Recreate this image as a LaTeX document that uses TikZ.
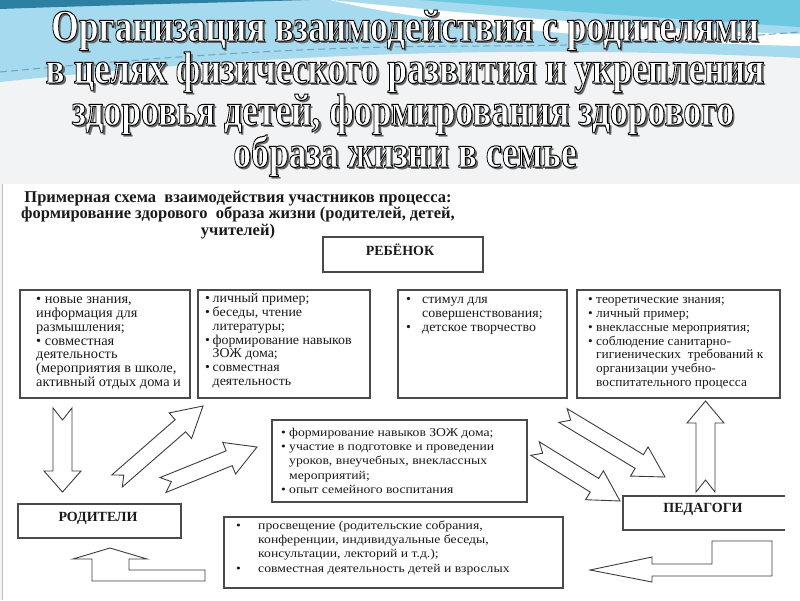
\documentclass[tikz,border=0pt]{standalone}
\usepackage{fontspec}
\setmainfont{Liberation Serif}
\newfontfamily\topfont[FakeStretch=1.03]{Liberation Serif}
\newfontfamily\widefont[FakeStretch=1.14]{Liberation Serif}
\usetikzlibrary{calc}
\definecolor{boxgray}{HTML}{4A4A4A}
\definecolor{arrgray}{HTML}{3C3C3C}
\definecolor{txtc}{HTML}{1A1A1A}
\definecolor{skyA}{HTML}{A6DAEE}
\definecolor{skyB}{HTML}{6CC9DF}
\definecolor{skyC}{HTML}{2C80A2}
\definecolor{bgtop}{HTML}{F1F3F5}
\tikzset{
  box/.style={draw=boxgray, line width=1.1pt, fill=white},
  farrow/.style={draw=arrgray, line width=0.9pt, fill=white, line join=miter},
  txt/.style={inner sep=0pt, anchor=north west, align=left, text=txtc},
  lbl/.style={inner sep=0pt, anchor=base, text=txtc, font=\fontsize{14}{14}\selectfont\bfseries},
  ttl/.style={inner sep=0pt, anchor=base},
}
\newcommand\ttltext[1]{\scalebox{0.79}[1]{\fontsize{45}{45}\selectfont\bfseries #1}}
\newcommand\outl[1]{\special{pdf:literal direct 2 Tr 1 w 0 0 0 RG}#1\special{pdf:literal direct 0 Tr}}
\newcommand\titleline[4]{%
  \node[ttl, text=black!60] (#1s) at (#2+2.5,#3+2.5) {\ttltext{#4}};
  \node[ttl, text=white] (#1) at (#2,#3) {\ttltext{\outl{#4}}};
}
\newcommand\bul[1]{\makebox[#1][l]{•}}
\newcommand\ind[1]{\hspace*{#1}}
\newcommand\fatarrow[7]{% tail, tip, shaft half, head half, head length, notch, name
  \coordinate (#7t) at (#1);
  \coordinate (#7p) at (#2);
  \coordinate (#7h) at ($(#7p)!#5!(#7t)$);
  \draw[farrow] ($(#7t)!#3!90:(#7p)$) -- ($(#7h)!#3!90:(#7p)$) -- ($(#7h)!#4!90:(#7p)$)
     -- (#7p) -- ($(#7h)!#4!-90:(#7p)$) -- ($(#7h)!#3!-90:(#7p)$) -- ($(#7t)!#3!-90:(#7p)$)
     -- ($(#7t)!#6!(#7p)$) -- cycle;
}
\begin{document}
\begin{tikzpicture}[x=1pt,y=-1pt]
\useasboundingbox (0,0) rectangle (800,600);
% background
\fill[bgtop] (0,0) rectangle (800,600);
\fill[skyA] (0,0) -- (800,0) -- (800,58) .. controls (520,44) and (260,54) .. (0,82) -- cycle;
\fill[white] (330,0) .. controls (470,14) and (650,30) .. (800,34) -- (800,46) .. controls (620,42) and (430,24) .. (330,0) -- cycle;
\fill[skyB] (420,0) -- (800,0) -- (800,27) .. controls (660,18) and (520,8) .. (420,0) -- cycle;
\fill[skyC] (0,0) -- (310,0) .. controls (200,3) and (80,6) .. (0,9) -- cycle;
\draw[skyC!70, line width=1pt, dash pattern=on 7pt off 4pt] (0,72) .. controls (150,58) and (300,46) .. (480,46) .. controls (620,46) and (720,38) .. (800,32);
\fill[white] (3,184) rectangle (800,600);
\draw[black!25, line width=0.8pt] (2,184) -- (2,600);
% title
\titleline{t1}{405}{41}{Организация взаимодействия с родителями}
\titleline{t2}{405}{83}{в целях физического развития и укрепления}
\titleline{t3}{403}{125}{здоровья детей, формирования здорового}
\titleline{t4}{405}{167}{образа жизни в семье}
% header
\node[inner sep=0pt, anchor=north, align=center, text=txtc, font=\fontsize{16.5}{16.5}\selectfont\bfseries] (hdr) at (238,190)
  {\rule{0pt}{12pt}Примерная схема \ взаимодействия участников процесса:\\
   формирование здорового \ образа жизни (родителей, детей,\\
   учителей)};
% role boxes
\draw[box] (323,237) rectangle (483,272);
\node[lbl] (reb) at (400,255) {РЕБЁНОК};
\draw[box] (18,504) rectangle (181,538);
\node[lbl] (rod) at (98,521) {РОДИТЕЛИ};
\draw[box] (785,496) -- (623,496) -- (623,530) -- (785,530);
\node[lbl] (ped) at (703,512) {ПЕДАГОГИ};
% top row boxes
\draw[box] (20,290) rectangle (190,398);
\node[txt, font=\topfont\fontsize{14}{13.8}\selectfont] (b1) at (36,294)
 {\rule{0pt}{9.5pt}• новые знания,\\ информация для\\ размышления;\\ • совместная\\ деятельность\\ (мероприятия в школе,\\ активный отдых дома и};
\draw[box] (198,290) rectangle (370,398);
\node[txt, font=\topfont\fontsize{13.5}{13.8}\selectfont] (b2) at (205,293)
 {\rule{0pt}{9.5pt}\bul{7.5pt}личный пример;\\ \bul{7.5pt}беседы, чтение\\ \ind{7.5pt}литературы;\\ \bul{7.5pt}формирование навыков\\ \ind{7.5pt}ЗОЖ дома;\\ \bul{7.5pt}совместная\\ \ind{7.5pt}деятельность};
\draw[box] (398,290) rectangle (567,398);
\node[txt, font=\topfont\fontsize{13.5}{13.8}\selectfont] (b3) at (406,294)
 {\rule{0pt}{9.5pt}\bul{16pt}стимул для\\ \ind{16pt}совершенствования;\\ \bul{16pt}детское творчество};
\draw[box] (577,290) rectangle (780,398);
\node[txt, font=\topfont\fontsize{13}{13.8}\selectfont] (b4) at (588,294)
 {\rule{0pt}{9.5pt}\bul{8pt}теоретические знания;\\ \bul{8pt}личный пример;\\ \bul{8pt}внеклассные мероприятия;\\ \bul{8pt}соблюдение санитарно-\\ \ind{8pt}гигиенических \ требований к\\ \ind{8pt}организации учебно-\\ \ind{8pt}воспитательного процесса};
% middle box
\draw[box] (272,420) rectangle (527,502);
\node[txt, font=\widefont\fontsize{12}{14.3}\selectfont] (bm) at (281,427)
 {\rule{0pt}{9pt}\bul{8pt}формирование навыков ЗОЖ дома;\\ \bul{8pt}участие в подготовке и проведении\\ \ind{8pt}уроков, внеучебных, внеклассных\\ \ind{8pt}мероприятий;\\ \bul{8pt}опыт семейного воспитания};
% bottom box
\draw[box] (224,517) rectangle (563,588);
\node[txt, font=\widefont\fontsize{12}{14.3}\selectfont] (bb) at (236,520)
 {\rule{0pt}{9pt}\bul{22pt}просвещение (родительские собрания,\\ \ind{22pt}конференции, индивидуальные беседы,\\ \ind{22pt}консультации, лекторий и т.д.);\\ \bul{22pt}совместная деятельность детей и взрослых};
% block arrows
\fatarrow{62.5,408}{62.5,492}{9.5pt}{18.5pt}{21pt}{12pt}{aL}
\fatarrow{705.5,492}{705.5,401}{9.5pt}{18.5pt}{22pt}{12pt}{aR}
\fatarrow{117,481}{203,406}{8pt}{17pt}{30pt}{9pt}{aC}
\fatarrow{163,485}{257,447}{8pt}{17pt}{30pt}{9pt}{aD}
\fatarrow{563,415.5}{665,477}{8pt}{17pt}{30pt}{9pt}{aA}
\fatarrow{535,448.5}{620,501}{8pt}{17pt}{30pt}{9pt}{aB}
% bent arrows
\draw[farrow] (652,557) -- (590,570) -- (652,582) -- (652,576) -- (772,576) -- (772,541) -- (712,541) -- (712,564) -- (652,564) -- cycle;
\draw[farrow] (73,559) -- (110,548) -- (147,559) -- (129,559) -- (129,570) -- (205,570) -- (205,581) -- (92,581) -- (92,559) -- cycle;
\end{tikzpicture}
\end{document}
